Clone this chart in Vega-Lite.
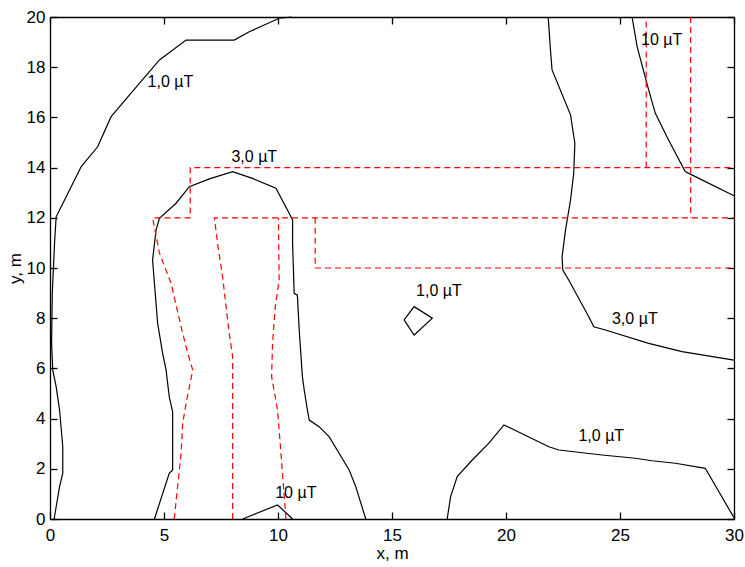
{
  "$schema": "https://vega.github.io/schema/vega-lite/v6.json",
  "width": 684,
  "height": 502,
  "autosize": {"type": "none"},
  "padding": {"left": 50, "top": 17, "right": 11, "bottom": 48},
  "background": "white",
  "config": {
    "view": {"stroke": null},
    "font": "Liberation Sans",
    "axis": {
      "grid": false,
      "domainColor": "black",
      "domainWidth": 1.3,
      "labelColor": "black",
      "labelFont": "Liberation Sans",
      "labelFontSize": 17,
      "labelFlush": false,
      "labelOverlap": false,
      "titleColor": "black",
      "titleFont": "Liberation Sans",
      "titleFontSize": 17,
      "titleFontWeight": "normal"
    }
  },
  "datasets": {
    "lines": [
      {"s": "A", "t": "c", "o": 1, "x": 0.18, "y": 0},
      {"s": "A", "t": "c", "o": 2, "x": 0.42, "y": 1.29},
      {"s": "A", "t": "c", "o": 3, "x": 0.56, "y": 1.83},
      {"s": "A", "t": "c", "o": 4, "x": 0.56, "y": 2.88},
      {"s": "A", "t": "c", "o": 5, "x": 0.42, "y": 4.34},
      {"s": "A", "t": "c", "o": 6, "x": 0.27, "y": 5.27},
      {"s": "A", "t": "c", "o": 7, "x": 0.12, "y": 5.94},
      {"s": "A", "t": "c", "o": 8, "x": 0.07, "y": 7.0},
      {"s": "A", "t": "c", "o": 9, "x": 0.1, "y": 9.0},
      {"s": "A", "t": "c", "o": 10, "x": 0.2, "y": 11.0},
      {"s": "A", "t": "c", "o": 11, "x": 0.27, "y": 12.04},
      {"s": "A", "t": "c", "o": 12, "x": 0.71, "y": 12.84},
      {"s": "A", "t": "c", "o": 13, "x": 1.37, "y": 14.04},
      {"s": "A", "t": "c", "o": 14, "x": 2.09, "y": 14.83},
      {"s": "A", "t": "c", "o": 15, "x": 2.68, "y": 16.03},
      {"s": "A", "t": "c", "o": 16, "x": 3.92, "y": 17.36},
      {"s": "A", "t": "c", "o": 17, "x": 4.8, "y": 18.29},
      {"s": "A", "t": "c", "o": 18, "x": 5.97, "y": 19.08},
      {"s": "A", "t": "c", "o": 19, "x": 8.08, "y": 19.08},
      {"s": "A", "t": "c", "o": 20, "x": 8.74, "y": 19.41},
      {"s": "A", "t": "c", "o": 21, "x": 10.05, "y": 19.95},
      {"s": "A", "t": "c", "o": 22, "x": 10.6, "y": 20},
      {"s": "B", "t": "c", "o": 1, "x": 4.58, "y": 0},
      {"s": "B", "t": "c", "o": 2, "x": 5.23, "y": 1.82},
      {"s": "B", "t": "c", "o": 3, "x": 5.38, "y": 1.95},
      {"s": "B", "t": "c", "o": 4, "x": 5.38, "y": 4.27},
      {"s": "B", "t": "c", "o": 5, "x": 5.23, "y": 4.87},
      {"s": "B", "t": "c", "o": 6, "x": 5.09, "y": 5.94},
      {"s": "B", "t": "c", "o": 7, "x": 4.94, "y": 6.6},
      {"s": "B", "t": "c", "o": 8, "x": 4.72, "y": 7.8},
      {"s": "B", "t": "c", "o": 9, "x": 4.58, "y": 9.39},
      {"s": "B", "t": "c", "o": 10, "x": 4.5, "y": 10.32},
      {"s": "B", "t": "c", "o": 11, "x": 4.65, "y": 11.51},
      {"s": "B", "t": "c", "o": 12, "x": 4.8, "y": 11.98},
      {"s": "B", "t": "c", "o": 13, "x": 5.53, "y": 12.58},
      {"s": "B", "t": "c", "o": 14, "x": 6.11, "y": 13.24},
      {"s": "B", "t": "c", "o": 15, "x": 6.99, "y": 13.55},
      {"s": "B", "t": "c", "o": 16, "x": 8.01, "y": 13.84},
      {"s": "B", "t": "c", "o": 17, "x": 8.88, "y": 13.57},
      {"s": "B", "t": "c", "o": 18, "x": 9.91, "y": 13.18},
      {"s": "B", "t": "c", "o": 19, "x": 10.49, "y": 12.18},
      {"s": "B", "t": "c", "o": 20, "x": 10.64, "y": 11.91},
      {"s": "B", "t": "c", "o": 21, "x": 10.64, "y": 10.98},
      {"s": "B", "t": "c", "o": 22, "x": 10.71, "y": 8.99},
      {"s": "B", "t": "c", "o": 23, "x": 10.85, "y": 8.92},
      {"s": "B", "t": "c", "o": 24, "x": 10.93, "y": 7.53},
      {"s": "B", "t": "c", "o": 25, "x": 11.07, "y": 5.67},
      {"s": "B", "t": "c", "o": 26, "x": 11.15, "y": 5.14},
      {"s": "B", "t": "c", "o": 27, "x": 11.29, "y": 4.34},
      {"s": "B", "t": "c", "o": 28, "x": 11.37, "y": 3.94},
      {"s": "B", "t": "c", "o": 29, "x": 11.8, "y": 3.68},
      {"s": "B", "t": "c", "o": 30, "x": 12.24, "y": 3.28},
      {"s": "B", "t": "c", "o": 31, "x": 12.68, "y": 2.62},
      {"s": "B", "t": "c", "o": 32, "x": 13.12, "y": 1.95},
      {"s": "B", "t": "c", "o": 33, "x": 13.41, "y": 1.29},
      {"s": "B", "t": "c", "o": 34, "x": 13.85, "y": 0},
      {"s": "C", "t": "c", "o": 1, "x": 8.45, "y": 0},
      {"s": "C", "t": "c", "o": 2, "x": 9.98, "y": 0.56},
      {"s": "C", "t": "c", "o": 3, "x": 10.64, "y": 0},
      {"s": "D", "t": "c", "o": 1, "x": 17.42, "y": 0},
      {"s": "D", "t": "c", "o": 2, "x": 17.57, "y": 0.89},
      {"s": "D", "t": "c", "o": 3, "x": 17.86, "y": 1.69},
      {"s": "D", "t": "c", "o": 4, "x": 18.52, "y": 2.35},
      {"s": "D", "t": "c", "o": 5, "x": 19.25, "y": 3.02},
      {"s": "D", "t": "c", "o": 6, "x": 19.91, "y": 3.75},
      {"s": "D", "t": "c", "o": 7, "x": 21.88, "y": 2.88},
      {"s": "D", "t": "c", "o": 8, "x": 22.32, "y": 2.75},
      {"s": "D", "t": "c", "o": 9, "x": 24.21, "y": 2.55},
      {"s": "D", "t": "c", "o": 10, "x": 25.68, "y": 2.42},
      {"s": "D", "t": "c", "o": 11, "x": 26.4, "y": 2.32},
      {"s": "D", "t": "c", "o": 12, "x": 27.43, "y": 2.22},
      {"s": "D", "t": "c", "o": 13, "x": 28.74, "y": 2.02},
      {"s": "D", "t": "c", "o": 14, "x": 30, "y": 0.05},
      {"s": "E", "t": "c", "o": 1, "x": 21.85, "y": 20},
      {"s": "E", "t": "c", "o": 2, "x": 21.95, "y": 18.69},
      {"s": "E", "t": "c", "o": 3, "x": 22.02, "y": 17.89},
      {"s": "E", "t": "c", "o": 4, "x": 22.83, "y": 16.1},
      {"s": "E", "t": "c", "o": 5, "x": 23.02, "y": 14.97},
      {"s": "E", "t": "c", "o": 6, "x": 22.97, "y": 13.77},
      {"s": "E", "t": "c", "o": 7, "x": 22.83, "y": 12.71},
      {"s": "E", "t": "c", "o": 8, "x": 22.61, "y": 11.51},
      {"s": "E", "t": "c", "o": 9, "x": 22.46, "y": 10.45},
      {"s": "E", "t": "c", "o": 10, "x": 22.49, "y": 9.92},
      {"s": "E", "t": "c", "o": 11, "x": 22.75, "y": 9.52},
      {"s": "E", "t": "c", "o": 12, "x": 23.63, "y": 8.06},
      {"s": "E", "t": "c", "o": 13, "x": 23.85, "y": 7.66},
      {"s": "E", "t": "c", "o": 14, "x": 24.36, "y": 7.53},
      {"s": "E", "t": "c", "o": 15, "x": 26.26, "y": 7.0},
      {"s": "E", "t": "c", "o": 16, "x": 27.72, "y": 6.67},
      {"s": "E", "t": "c", "o": 17, "x": 30, "y": 6.33},
      {"s": "F", "t": "c", "o": 1, "x": 25.53, "y": 20},
      {"s": "F", "t": "c", "o": 2, "x": 25.75, "y": 18.82},
      {"s": "F", "t": "c", "o": 3, "x": 26.26, "y": 17.09},
      {"s": "F", "t": "c", "o": 4, "x": 26.55, "y": 16.16},
      {"s": "F", "t": "c", "o": 5, "x": 27.13, "y": 15.1},
      {"s": "F", "t": "c", "o": 6, "x": 27.86, "y": 13.84},
      {"s": "F", "t": "c", "o": 7, "x": 28.15, "y": 13.71},
      {"s": "F", "t": "c", "o": 8, "x": 30, "y": 12.88},
      {"s": "G", "t": "g", "o": 1, "x": 15.53, "y": 7.93},
      {"s": "G", "t": "g", "o": 2, "x": 15.97, "y": 8.46},
      {"s": "G", "t": "g", "o": 3, "x": 16.77, "y": 8.0},
      {"s": "G", "t": "g", "o": 4, "x": 15.97, "y": 7.33},
      {"s": "G", "t": "g", "o": 5, "x": 15.53, "y": 7.93},
      {"s": "R1", "t": "r", "o": 1, "x": 5.45, "y": 0},
      {"s": "R1", "t": "r", "o": 2, "x": 5.75, "y": 2.62},
      {"s": "R1", "t": "r", "o": 3, "x": 5.82, "y": 3.81},
      {"s": "R1", "t": "r", "o": 4, "x": 5.97, "y": 4.61},
      {"s": "R1", "t": "r", "o": 5, "x": 6.26, "y": 5.94},
      {"s": "R1", "t": "r", "o": 6, "x": 6.04, "y": 6.6},
      {"s": "R1", "t": "r", "o": 7, "x": 5.75, "y": 7.66},
      {"s": "R1", "t": "r", "o": 8, "x": 5.31, "y": 9.39},
      {"s": "R1", "t": "r", "o": 9, "x": 4.8, "y": 10.59},
      {"s": "R1", "t": "r", "o": 10, "x": 4.5, "y": 12},
      {"s": "R1", "t": "r", "o": 11, "x": 6.15, "y": 12},
      {"s": "R1", "t": "r", "o": 12, "x": 6.15, "y": 14},
      {"s": "R1", "t": "r", "o": 13, "x": 30, "y": 14},
      {"s": "R2", "t": "r", "o": 1, "x": 26.15, "y": 14},
      {"s": "R2", "t": "r", "o": 2, "x": 26.15, "y": 20},
      {"s": "R3", "t": "r", "o": 1, "x": 28.1, "y": 20},
      {"s": "R3", "t": "r", "o": 2, "x": 28.1, "y": 12},
      {"s": "R4", "t": "r", "o": 1, "x": 8.01, "y": 0},
      {"s": "R4", "t": "r", "o": 2, "x": 8.01, "y": 6.47},
      {"s": "R4", "t": "r", "o": 3, "x": 7.86, "y": 7.4},
      {"s": "R4", "t": "r", "o": 4, "x": 7.57, "y": 9.65},
      {"s": "R4", "t": "r", "o": 5, "x": 7.35, "y": 10.98},
      {"s": "R4", "t": "r", "o": 6, "x": 7.21, "y": 12},
      {"s": "R4", "t": "r", "o": 7, "x": 30, "y": 12},
      {"s": "R5", "t": "r", "o": 1, "x": 10.35, "y": 0},
      {"s": "R5", "t": "r", "o": 2, "x": 10.05, "y": 3.55},
      {"s": "R5", "t": "r", "o": 3, "x": 9.98, "y": 4.34},
      {"s": "R5", "t": "r", "o": 4, "x": 9.72, "y": 5.67},
      {"s": "R5", "t": "r", "o": 5, "x": 9.76, "y": 7.0},
      {"s": "R5", "t": "r", "o": 6, "x": 9.88, "y": 8.46},
      {"s": "R5", "t": "r", "o": 7, "x": 10.05, "y": 9.52},
      {"s": "R5", "t": "r", "o": 8, "x": 10.02, "y": 12},
      {"s": "R6", "t": "r", "o": 1, "x": 11.63, "y": 12},
      {"s": "R6", "t": "r", "o": 2, "x": 11.63, "y": 10},
      {"s": "R6", "t": "r", "o": 3, "x": 30, "y": 10}
    ],
    "labels": [
      {"text": "1,0 µT", "x": 5.28, "y": 17.41},
      {"text": "3,0 µT", "x": 8.96, "y": 14.44},
      {"text": "1,0 µT", "x": 17.06, "y": 9.08},
      {"text": "3,0 µT", "x": 25.65, "y": 7.98},
      {"text": "1,0 µT", "x": 24.18, "y": 3.29},
      {"text": "10 µT", "x": 10.78, "y": 1.02},
      {"text": "10 µT", "x": 26.83, "y": 19.1}
    ]
  },
  "layer": [
    {
      "data": {"name": "lines"},
      "transform": [{"filter": "datum.t == 'c'"}],
      "mark": {"type": "line", "color": "black", "strokeWidth": 1.2},
      "encoding": {
        "x": {"field": "x", "type": "quantitative", "scale": {"domain": [0, 30], "nice": false},
              "axis": {"orient": "bottom", "values": [0, 5, 10, 15, 20, 25, 30], "title": "x, m", "ticks": false, "tickSize": 0, "labelPadding": 8, "titlePadding": 2}},
        "y": {"field": "y", "type": "quantitative", "scale": {"domain": [0, 20], "nice": false},
              "axis": {"orient": "left", "values": [0, 2, 4, 6, 8, 10, 12, 14, 16, 18, 20], "title": "y, m", "ticks": false, "tickSize": 0, "labelPadding": 5, "titlePadding": 2}},
        "detail": {"field": "s"},
        "order": {"field": "o"}
      }
    },
    {
      "data": {"name": "lines"},
      "transform": [{"filter": "datum.t == 'r'"}],
      "mark": {"type": "line", "color": "#ff0000", "strokeWidth": 1.2, "strokeDash": [6, 4]},
      "encoding": {
        "x": {"field": "x", "type": "quantitative", "scale": {"domain": [0, 30], "nice": false},
              "axis": {"orient": "top", "values": [0, 5, 10, 15, 20, 25, 30], "labels": false, "ticks": true, "tickSize": -7, "tickColor": "black", "tickWidth": 1.3, "title": null}},
        "y": {"field": "y", "type": "quantitative", "scale": {"domain": [0, 20], "nice": false},
              "axis": {"orient": "right", "values": [0, 2, 4, 6, 8, 10, 12, 14, 16, 18, 20], "labels": false, "ticks": true, "tickSize": -7, "tickColor": "black", "tickWidth": 1.3, "title": null}},
        "detail": {"field": "s"},
        "order": {"field": "o"}
      }
    },
    {
      "data": {"name": "lines"},
      "transform": [{"filter": "datum.t == 'g'"}],
      "mark": {"type": "line", "color": "black", "strokeWidth": 1.2},
      "encoding": {
        "x": {"field": "x", "type": "quantitative", "scale": {"domain": [0, 30], "nice": false},
              "axis": {"orient": "bottom", "values": [0, 5, 10, 15, 20, 25, 30], "labels": false, "domain": false, "ticks": true, "tickSize": -7, "tickColor": "black", "tickWidth": 1.3, "title": null}},
        "y": {"field": "y", "type": "quantitative", "scale": {"domain": [0, 20], "nice": false},
              "axis": {"orient": "left", "values": [0, 2, 4, 6, 8, 10, 12, 14, 16, 18, 20], "labels": false, "domain": false, "ticks": true, "tickSize": -7, "tickColor": "black", "tickWidth": 1.3, "title": null}},
        "detail": {"field": "s"},
        "order": {"field": "o"}
      }
    },
    {
      "data": {"name": "labels"},
      "mark": {"type": "text", "fontSize": 16, "color": "black", "font": "Liberation Sans", "align": "center", "baseline": "middle"},
      "encoding": {
        "x": {"field": "x", "type": "quantitative", "scale": {"domain": [0, 30], "nice": false}, "axis": null},
        "y": {"field": "y", "type": "quantitative", "scale": {"domain": [0, 20], "nice": false}, "axis": null},
        "text": {"field": "text"}
      }
    }
  ],
  "resolve": {"axis": {"x": "independent", "y": "independent"}}
}
